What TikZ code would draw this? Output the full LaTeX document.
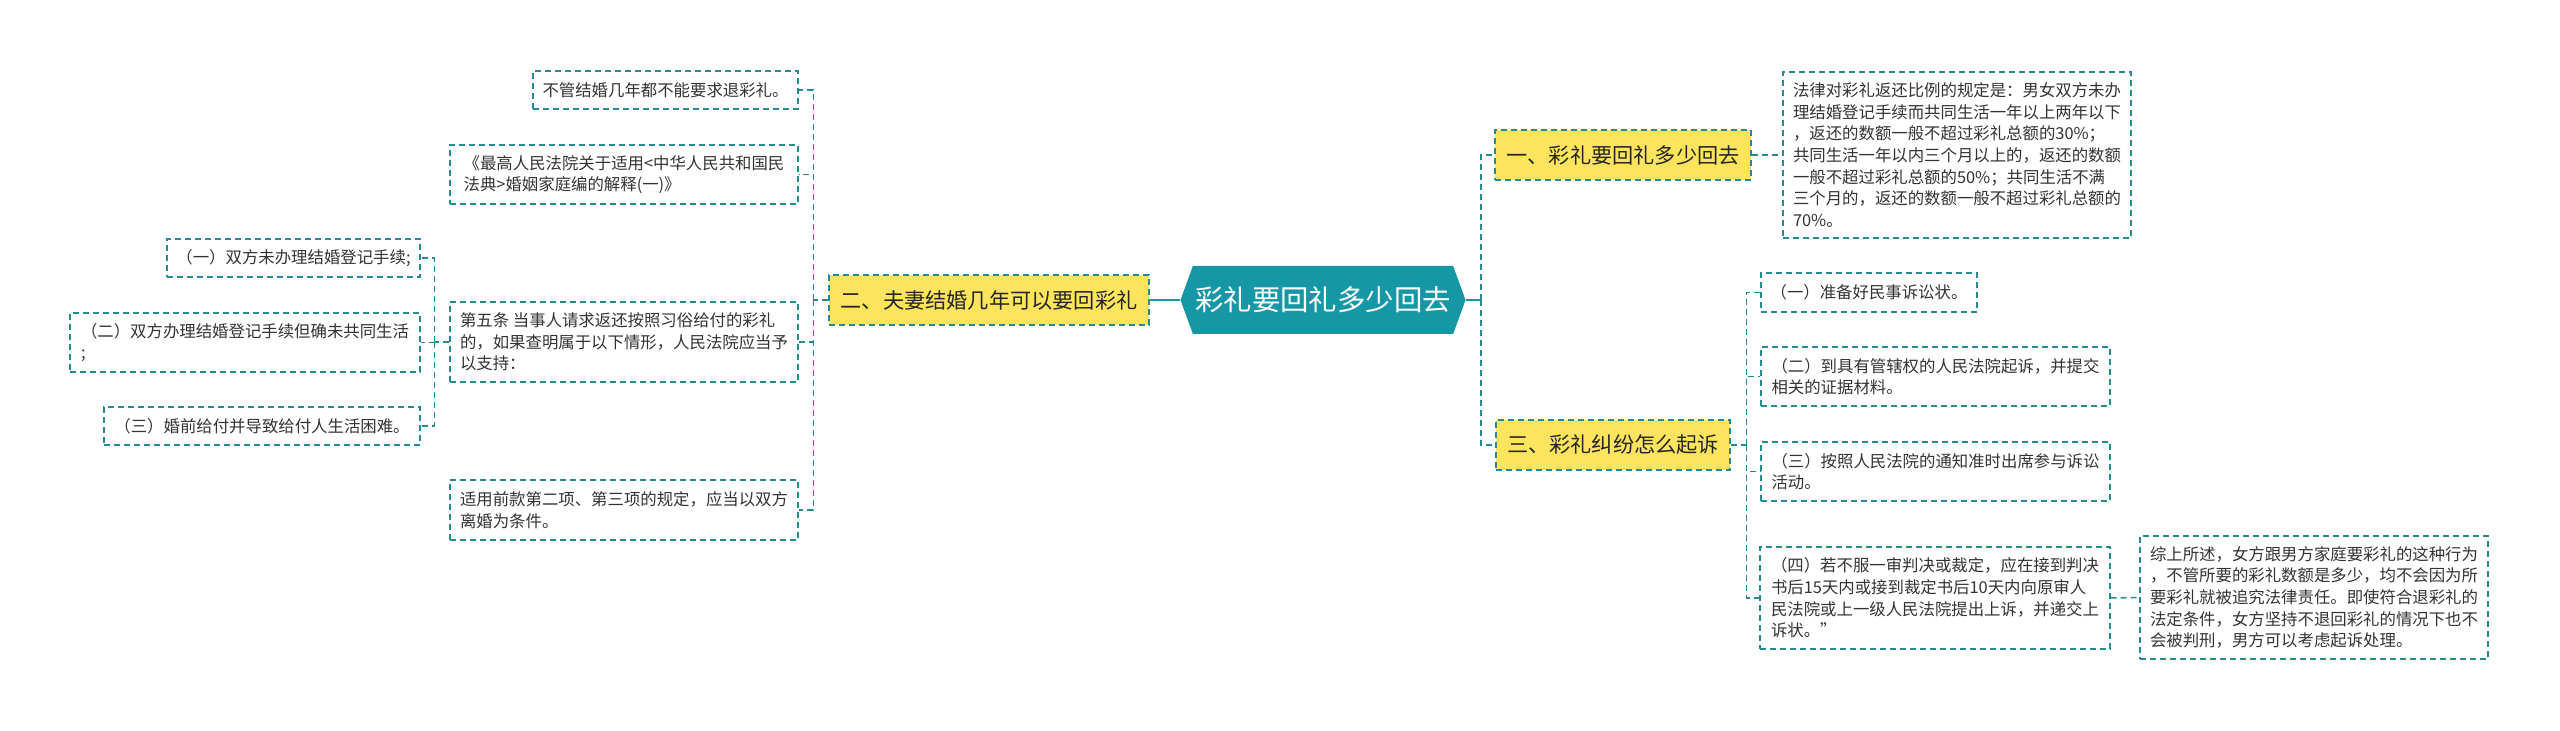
\documentclass[tikz,border=0pt]{standalone}
\usepackage{fontspec}
\setmainfont{Noto Sans CJK SC}
\usetikzlibrary{shapes.symbols}

\definecolor{tealmain}{RGB}{21,151,166}
\definecolor{tealline}{RGB}{38,138,150}
\definecolor{topicyellow}{RGB}{252,229,92}
\definecolor{leaftext}{RGB}{51,51,51}

\begin{document}
\begin{tikzpicture}[
    x=0.5pt, y=-0.5pt,
    leaf/.style={draw=tealline, dash pattern=on 3pt off 2pt, line width=0.7pt, rectangle, align=left, fill=white, text=leaftext, inner sep=0pt, font=\fontsize{8.2}{10.8}\selectfont},
    topic/.style={draw=tealline, dash pattern=on 3pt off 2pt, line width=0.7pt, rectangle, fill=topicyellow, text=black!85, inner sep=0pt, minimum height=25pt, font=\fontsize{10.6}{13}\selectfont},
    rootbox/.style={signal, signal to=west and east, signal pointer angle=140, fill=tealmain, text=white, inner sep=0pt, minimum width=142.5pt, minimum height=34pt, font=\fontsize{14.2}{17}\selectfont},
    link/.style={draw=tealline, dash pattern=on 3pt off 2pt, line width=0.75pt},
    rootlink/.style={draw=tealmain, line width=1.3pt}
]
\useasboundingbox (0,0) rectangle (2560,731);

% Nodes
\node (root) [rootbox] at (1323,300) {彩礼要回礼多少回去};
\node (t2) [topic, minimum width=160pt] at (989,300) {二、夫妻结婚几年可以要回彩礼};
\node (t1) [topic, minimum width=128pt] at (1623,155) {一、彩礼要回礼多少回去};
\node (t3) [topic, minimum width=117pt] at (1613,445) {三、彩礼纠纷怎么起诉};

% Left side
\node (a1) [leaf, minimum width=132.5pt, minimum height=19pt] at (665.5,90) {不管结婚几年都不能要求退彩礼。};
\node (a2) [leaf, minimum width=174pt, minimum height=29.5pt] at (624,174.5) {《最高人民法院关于适用<中华人民共和国民\\法典>婚姻家庭编的解释(一)》};
\node (a3) [leaf, minimum width=174pt, minimum height=40pt] at (624,342) {第五条 当事人请求返还按照习俗给付的彩礼\\的，如果查明属于以下情形，人民法院应当予\\以支持：};
\node (a4) [leaf, minimum width=174pt, minimum height=30pt] at (624,510) {适用前款第二项、第三项的规定，应当以双方\\离婚为条件。};
\node (b1) [leaf, minimum width=126.5pt, minimum height=19pt] at (293.5,258) {（一）双方未办理结婚登记手续;};
\node (b2) [leaf, minimum width=175pt, minimum height=29.5pt] at (245,342.5) {（二）双方办理结婚登记手续但确未共同生活\\;};
\node (b3) [leaf, minimum width=158pt, minimum height=19pt] at (262,426) {（三）婚前给付并导致给付人生活困难。};

% Right side
\node (c1) [leaf, minimum width=174pt, minimum height=83pt] at (1957,155) {法律对彩礼返还比例的规定是：男女双方未办\\理结婚登记手续而共同生活一年以上两年以下\\，返还的数额一般不超过彩礼总额的30\%；\\共同生活一年以内三个月以上的，返还的数额\\一般不超过彩礼总额的50\%；共同生活不满\\三个月的，返还的数额一般不超过彩礼总额的\\70\%。};
\node (d1) [leaf, minimum width=108pt, minimum height=19.5pt] at (1869,292.5) {（一）准备好民事诉讼状。};
\node (d2) [leaf, minimum width=174.5pt, minimum height=29.5pt] at (1935.5,376.5) {（二）到具有管辖权的人民法院起诉，并提交\\相关的证据材料。};
\node (d3) [leaf, minimum width=174.5pt, minimum height=29.5pt] at (1935.5,471.5) {（三）按照人民法院的通知准时出席参与诉讼\\活动。};
\node (d4) [leaf, minimum width=175pt, minimum height=51pt] at (1935,598) {（四）若不服一审判决或裁定，应在接到判决\\书后15天内或接到裁定书后10天内向原审人\\民法院或上一级人民法院提出上诉，并递交上\\诉状。”};
\node (e1) [leaf, minimum width=174pt, minimum height=61.5pt] at (2314,597.5) {综上所述，女方跟男方家庭要彩礼的这种行为\\，不管所要的彩礼数额是多少，均不会因为所\\要彩礼就被追究法律责任。即使符合退彩礼的\\法定条件，女方坚持不退回彩礼的情况下也不\\会被判刑，男方可以考虑起诉处理。};

% Connections
\draw [rootlink] (root.west) -- (t2.east);
\draw [rootlink] (root.east) -- ++(15,0) coordinate (rbus);
\draw [link] (rbus) |- (t1.west);
\draw [link] (rbus) |- (t3.west);
\draw [link] (t2.west) -- ++(-15,0) coordinate (lbus);
\foreach \n in {a1,a2,a3,a4} \draw [link] (lbus) |- (\n.east);
\draw [link] (a3.west) -- ++(-15,0) coordinate (bbus);
\foreach \n in {b1,b2,b3} \draw [link] (bbus) |- (\n.east);
\draw [link] (t1.east) -- (c1.west);
\draw [link] (t3.east) -- ++(16,0) coordinate (dbus);
\foreach \n in {d1,d2,d3,d4} \draw [link] (dbus) |- (\n.west);
\draw [link] (d4.east) -- (e1.west);

\end{tikzpicture}
\end{document}
